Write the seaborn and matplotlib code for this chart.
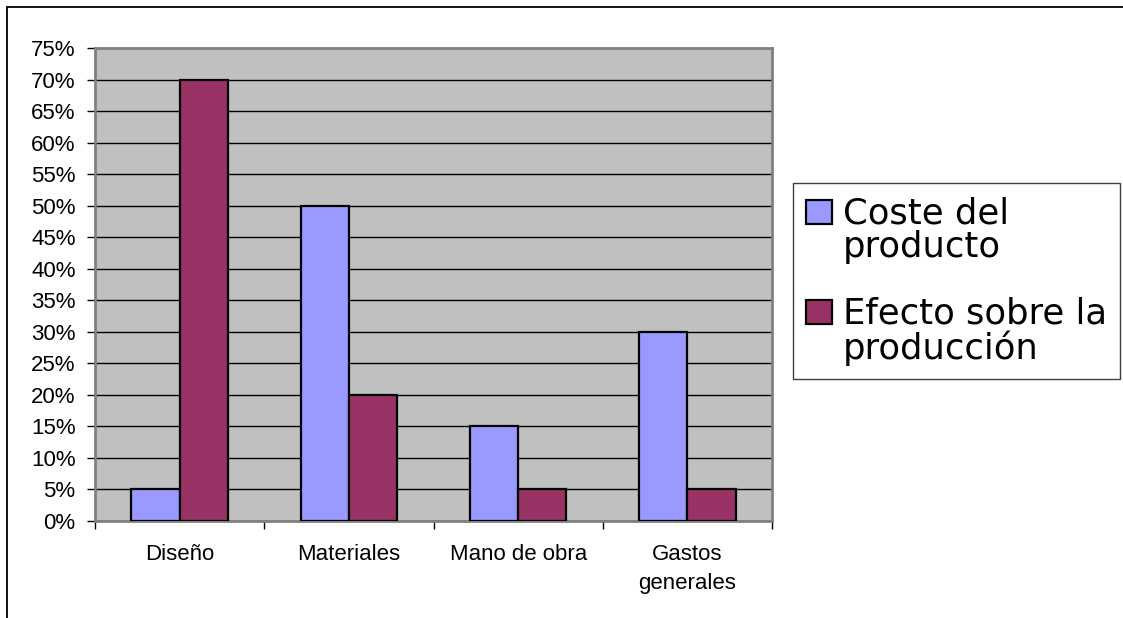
import matplotlib
matplotlib.use("Agg")
import matplotlib.pyplot as plt
import seaborn as sns
import pandas as pd
from matplotlib.patches import Rectangle
from matplotlib.container import BarContainer
from matplotlib.legend_handler import HandlerPatch
from matplotlib.ticker import FixedLocator, FuncFormatter

categories = ["Diseño", "Materiales", "Mano de obra", "Gastos\ngenerales"]
series_names = ["Coste del\nproducto", "Efecto sobre la\nproducción"]
coste = [5, 50, 15, 30]
efecto = [70, 20, 5, 5]
y_ticks = list(range(0, 80, 5))
colors = ["#9999FF", "#993366"]

sns.set_theme(style="white")
plt.rcParams["font.family"] = ["Liberation Sans", "DejaVu Sans"]

df = pd.DataFrame({
    "cat": categories * 2,
    "serie": [series_names[0]] * 4 + [series_names[1]] * 4,
    "val": coste + efecto,
})

W, H = 1123, 618
fig = plt.figure(figsize=(W / 100, H / 100), dpi=100)
fig.patch.set_facecolor("white")
ax = fig.add_axes([95 / W, 1 - 520.7 / H, (772 - 95) / W, (520.7 - 48.3) / H])
ax.set_facecolor("#C0C0C0")

sns.barplot(data=df, x="cat", y="val", hue="serie", palette=colors,
            width=0.5714, edgecolor="black", linewidth=1.6, ax=ax,
            saturation=1, legend=True, zorder=3)

ax.set_xlim(-0.5, 3.5)
ax.set_ylim(0, 75)
ax.set_xlabel("")
ax.set_ylabel("")

ax.yaxis.set_major_locator(FixedLocator(y_ticks))
ax.yaxis.set_major_formatter(FuncFormatter(lambda v, p: f"{v:.0f}%"))
ax.grid(axis="y", color="black", linewidth=1.0, zorder=1)
ax.set_axisbelow(True)
ax.tick_params(axis="y", which="major", left=True, length=6, width=1,
               color="black", pad=8, labelsize=16, labelcolor="black")

ax.set_xticks(range(len(categories)))
ax.set_xticklabels(categories)
ax.tick_params(axis="x", which="major", bottom=True, length=0, pad=16.5,
               labelsize=16, labelcolor="black")
for t in ax.get_xticklabels():
    t.set_linespacing(1.55)
ax.xaxis.set_minor_locator(FixedLocator([-0.5, 0.5, 1.5, 2.5, 3.5]))
ax.tick_params(axis="x", which="minor", bottom=True, length=6, width=1,
               color="black")

for s in ax.spines.values():
    s.set_color("#808080")
    s.set_linewidth(2)
    s.set_visible(True)


def square_patch(legend, orig_handle, xdescent, ydescent, width, height, fontsize):
    return Rectangle((-xdescent, -ydescent), width, height * 0.86)


hmap = {Rectangle: HandlerPatch(patch_func=square_patch),
        BarContainer: HandlerPatch(patch_func=square_patch)}

ax.legend_.remove()
handles, labels = ax.get_legend_handles_labels()
leg = fig.legend(handles, labels, loc="upper left",
                 bbox_to_anchor=(793 / W, 1 - 183 / H),
                 bbox_transform=fig.transFigure,
                 prop={"family": ["DejaVu Sans"], "size": 25.5},
                 frameon=True, fancybox=False, shadow=False,
                 edgecolor="#404040", framealpha=1,
                 handlelength=0.71, handleheight=0.82, handletextpad=0.31,
                 borderpad=0.38, borderaxespad=0, labelspacing=0.9,
                 handler_map=hmap)
leg.get_frame().set_linewidth(1.0)
for h in leg.legend_handles:
    h.set_edgecolor("black")
    h.set_linewidth(1.6)
for t in leg.get_texts():
    t.set_color("black")
    t.set_linespacing(1.0)
# align each handle with the first line of its label
for col in leg._legend_handle_box.get_children():
    for item in col.get_children():
        item.align = "top"

fig.add_artist(Rectangle((7 / W, -0.2), 1.5, 1.2 - 7 / H,
                         transform=fig.transFigure, fill=False,
                         edgecolor="black", linewidth=1.3, clip_on=False))

fig.savefig("out.png", dpi=100, facecolor="white")
